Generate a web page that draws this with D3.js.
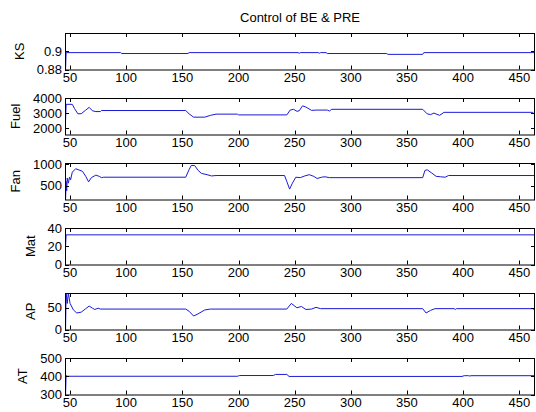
<!DOCTYPE html>
<html>
<head>
<meta charset="utf-8">
<script src="https://cdn.jsdelivr.net/npm/d3@7"></script>
<style>
  body { margin: 0; background: #fff; }
  svg text { font-family: "Liberation Sans", Arial, sans-serif; fill: #000; }
</style>
</head>
<body>
<div id="chart"></div>
<script>
// x ticks shared by every panel
var xTicks = [50, 100, 150, 200, 250, 300, 350, 400, 450];

// series values, [x, value]
var ksPts = [[46, 0.88], [46.5, 0.8985], [95, 0.8985], [96, 0.8975], [155, 0.8975], [156, 0.8985],
  [253, 0.8985], [254, 0.8978], [255, 0.8985], [271, 0.8985], [272, 0.8978], [273, 0.8985],
  [278, 0.8985], [279, 0.8975], [332, 0.8975], [333, 0.8966], [364, 0.8966], [365, 0.8985], [464, 0.8985]];

var fuelPts = [[46, 2500], [46.5, 3580], [52, 3580], [54, 3300], [57, 2950], [60, 2960], [64, 3200],
  [67, 3380], [70, 3150], [73, 3100], [77, 3100], [78, 3170], [153, 3170], [156, 2950], [160, 2730],
  [170, 2730], [175, 2850], [180, 2930], [199, 2930], [200, 2880], [243, 2880], [246, 3200],
  [249, 3250], [252, 3120], [254, 3150], [257, 3480], [260, 3400], [265, 3180], [270, 3200],
  [279, 3200], [281, 3140], [283, 3250], [364, 3250], [368, 2950], [371, 2900], [374, 3000],
  [379, 2850], [383, 3050], [462, 3050], [463, 2950], [464, 3000]];

var fanPts = [[46, 180], [46.5, 600], [47, 380], [47.5, 680], [48.5, 560], [49.5, 700], [50.5, 640],
  [52, 820], [55, 900], [58, 870], [61, 840], [64, 720], [66.5, 590], [69, 690], [73, 750],
  [76, 720], [78, 690], [80, 700], [153, 700], [156, 880], [158, 980], [161, 975], [164, 860],
  [167, 790], [172, 760], [176, 730], [180, 740], [241, 740], [243, 600], [245.5, 420],
  [248, 560], [251, 700], [255, 690], [259, 730], [263, 760], [267, 720], [270, 670],
  [274, 700], [277, 710], [281, 690], [364, 690], [366, 860], [368, 875], [372, 800],
  [376, 720], [380, 710], [384, 700], [387, 740], [464, 740]];

var matPts = [[46, 20], [46.5, 32.5], [464, 32.5]];

var apPts = [[46, 0], [46.5, 84], [47.5, 60], [48.5, 84], [50, 60], [53, 45], [56, 38], [60, 40],
  [64, 48], [67, 54], [70, 49], [72, 46], [75, 49], [77, 47], [153, 47], [156, 42], [160, 31],
  [164, 36], [170, 45], [175, 47], [243, 47], [247, 60], [252, 50], [256, 53], [260, 46],
  [265, 47], [269, 51], [273, 48], [364, 48], [367, 38], [371, 44], [375, 48], [392, 48],
  [393, 46], [394, 48], [462, 48], [463, 46], [464, 48]];

var atPts = [[46, 300], [46.5, 405], [47, 400], [199, 400], [201, 404], [231, 404], [233, 410],
  [243, 410], [245, 399], [399, 399], [401, 403], [405, 403], [406, 401], [407, 403], [464, 403]];

var panels = [
  { name: "KS", pts: ksPts, domain: [0.88, 0.92], ticks: [0.88, 0.9] },
  { name: "Fuel", pts: fuelPts, domain: [1580, 4000], ticks: [2000, 3000, 4000] },
  { name: "Fan", pts: fanPts, domain: [175, 1035], ticks: [500, 1000] },
  { name: "Mat", pts: matPts, domain: [0, 40], ticks: [0, 20, 40] },
  { name: "AP", pts: apPts, domain: [0, 84], ticks: [0, 50] },
  { name: "AT", pts: atPts, domain: [300, 500], ticks: [300, 400, 500] }
];

var width = 536, height = 412;
var left = 65, right = 535;
var top0 = 33, step = 65, ph = 36.5;
var tickLen = 4;

var svg = d3.select("#chart").append("svg")
  .attr("width", width)
  .attr("height", height);

// title
svg.append("text")
  .attr("x", (left + right) / 2)
  .attr("y", 22)
  .attr("text-anchor", "middle")
  .style("font-size", "13px")
  .text("Control of BE & PRE");

var x = d3.scaleLinear().domain([45.5, 464]).range([left, right]);

panels.forEach(function(p, i) {
  var top = top0 + i * step;
  var y = d3.scaleLinear().domain(p.domain).range([top + ph, top]);
  var g = svg.append("g");

  // data line
  var line = d3.line().x(d => x(d[0])).y(d => y(d[1]));
  g.append("path")
    .datum(p.pts)
    .attr("d", line)
    .attr("fill", "none")
    .attr("stroke", "#1a1ad6")
    .attr("stroke-width", 1);

  // box
  g.append("rect")
    .attr("x", left + 0.5).attr("y", top + 0.5)
    .attr("width", right - left - 1).attr("height", ph)
    .attr("fill", "none").attr("stroke", "#000").attr("stroke-width", 1);

  // x ticks, bottom and top, pointing in
  xTicks.forEach(function(t) {
    var xp = Math.round(x(t)) + 0.5;
    g.append("line").attr("x1", xp).attr("x2", xp)
      .attr("y1", top + ph).attr("y2", top + ph - tickLen)
      .attr("stroke", "#000");
    g.append("line").attr("x1", xp).attr("x2", xp)
      .attr("y1", top).attr("y2", top + tickLen)
      .attr("stroke", "#000");
    g.append("text")
      .attr("x", x(t))
      .attr("y", top + ph + 12.5)
      .attr("text-anchor", "middle")
      .style("font-size", "13px")
      .text(t);
  });

  // y ticks, left and right
  var maxW = 0;
  p.ticks.forEach(function(t) {
    var yp = Math.round(y(t)) + 0.5;
    g.append("line").attr("x1", left).attr("x2", left + tickLen)
      .attr("y1", yp).attr("y2", yp).attr("stroke", "#000");
    g.append("line").attr("x1", right).attr("x2", right - tickLen)
      .attr("y1", yp).attr("y2", yp).attr("stroke", "#000");
    var txt = g.append("text")
      .attr("x", left - 3)
      .attr("y", y(t) + 4.5)
      .attr("text-anchor", "end")
      .style("font-size", "13px")
      .text(t);
    maxW = Math.max(maxW, txt.node().getComputedTextLength());
  });

  // y label
  var lx = left - 3 - maxW - 13;
  g.append("text")
    .attr("transform", "translate(" + lx + "," + (top + ph / 2) + ") rotate(-90)")
    .attr("text-anchor", "middle")
    .style("font-size", "13px")
    .text(p.name);
});
</script>
</body>
</html>
